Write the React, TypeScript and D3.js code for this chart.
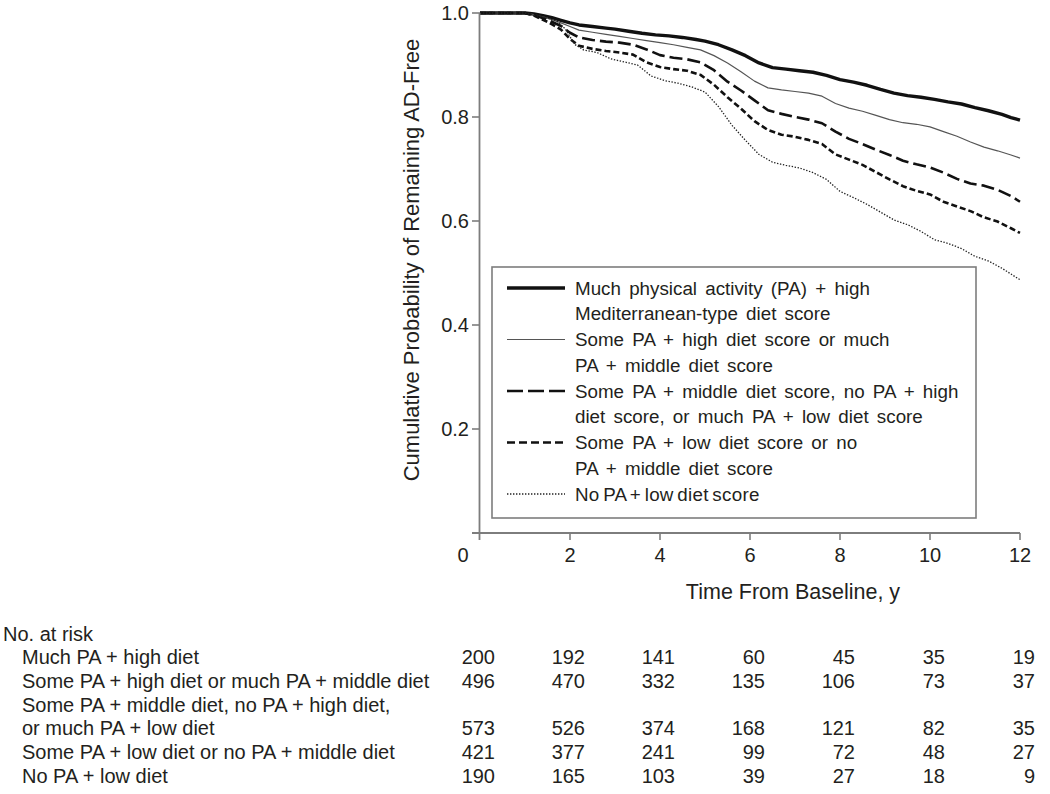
import React from "react";
import * as d3 from "d3";

type Pt = [number, number];

const xTicks = [0, 2, 4, 6, 8, 10, 12];
const yTicks = [0.2, 0.4, 0.6, 0.8, 1.0];

const muchPAHighDiet: Pt[] = [
  [0, 1], [1.0, 1], [1.2, 0.998], [1.4, 0.995], [1.6, 0.991], [1.8, 0.986], [2.0, 0.981], [2.2, 0.977],
  [2.5, 0.974], [2.8, 0.971], [3.0, 0.969], [3.3, 0.965], [3.6, 0.961], [3.9, 0.958], [4.2, 0.956],
  [4.5, 0.953], [4.8, 0.949], [5.0, 0.946], [5.3, 0.939], [5.6, 0.929], [5.9, 0.918], [6.2, 0.904],
  [6.5, 0.895], [6.8, 0.892], [7.1, 0.889], [7.4, 0.886], [7.7, 0.88], [8.0, 0.872], [8.3, 0.867],
  [8.6, 0.861], [8.9, 0.853], [9.2, 0.846], [9.5, 0.841], [9.8, 0.838], [10.1, 0.834], [10.4, 0.829],
  [10.7, 0.825], [11.0, 0.818], [11.3, 0.812], [11.6, 0.805], [11.8, 0.799], [12.0, 0.794],
];

const somePAHighDiet: Pt[] = [
  [0, 1], [1.0, 1], [1.2, 0.997], [1.5, 0.99], [1.8, 0.981], [2.0, 0.974], [2.2, 0.967], [2.5, 0.963],
  [2.8, 0.959], [3.1, 0.955], [3.4, 0.951], [3.7, 0.947], [4.0, 0.943], [4.3, 0.939], [4.6, 0.934],
  [4.9, 0.929], [5.2, 0.918], [5.5, 0.904], [5.8, 0.887], [6.1, 0.869], [6.4, 0.856], [6.7, 0.852],
  [7.0, 0.849], [7.3, 0.846], [7.6, 0.84], [7.9, 0.826], [8.2, 0.817], [8.5, 0.811], [8.8, 0.803],
  [9.1, 0.795], [9.4, 0.789], [9.7, 0.786], [10.0, 0.781], [10.3, 0.772], [10.6, 0.763], [10.9, 0.752],
  [11.2, 0.742], [11.5, 0.735], [11.8, 0.727], [12.0, 0.721],
];

const somePAMiddleDiet: Pt[] = [
  [0, 1], [1.0, 1], [1.2, 0.996], [1.5, 0.987], [1.8, 0.975], [2.0, 0.962], [2.2, 0.953], [2.5, 0.948],
  [2.8, 0.945], [3.1, 0.943], [3.4, 0.939], [3.7, 0.93], [4.0, 0.919], [4.3, 0.914], [4.6, 0.911],
  [4.9, 0.905], [5.2, 0.89], [5.5, 0.868], [5.8, 0.851], [6.1, 0.832], [6.4, 0.813], [6.7, 0.806],
  [7.0, 0.8], [7.3, 0.795], [7.6, 0.788], [7.9, 0.772], [8.2, 0.758], [8.5, 0.748], [8.8, 0.737],
  [9.1, 0.727], [9.4, 0.716], [9.7, 0.709], [10.0, 0.703], [10.3, 0.693], [10.6, 0.681], [10.9, 0.672],
  [11.2, 0.668], [11.5, 0.66], [11.8, 0.648], [12.0, 0.637],
];

const somePALowDiet: Pt[] = [
  [0, 1], [1.0, 1], [1.2, 0.995], [1.5, 0.983], [1.8, 0.968], [2.0, 0.95], [2.2, 0.937], [2.5, 0.931],
  [2.8, 0.927], [3.1, 0.924], [3.4, 0.92], [3.7, 0.905], [4.0, 0.896], [4.3, 0.892], [4.6, 0.889],
  [4.9, 0.881], [5.2, 0.862], [5.5, 0.838], [5.8, 0.816], [6.1, 0.792], [6.4, 0.775], [6.7, 0.766],
  [7.0, 0.762], [7.3, 0.756], [7.6, 0.748], [7.9, 0.728], [8.2, 0.718], [8.5, 0.708], [8.8, 0.694],
  [9.1, 0.68], [9.4, 0.667], [9.7, 0.658], [10.0, 0.651], [10.3, 0.637], [10.6, 0.628], [10.9, 0.619],
  [11.2, 0.607], [11.5, 0.599], [11.8, 0.586], [12.0, 0.577],
];

const noPALowDiet: Pt[] = [
  [0, 1], [1.0, 1], [1.2, 0.996], [1.5, 0.99], [1.7, 0.985], [1.9, 0.969], [2.1, 0.94], [2.3, 0.929],
  [2.6, 0.924], [2.9, 0.912], [3.2, 0.906], [3.5, 0.9], [3.8, 0.879], [4.1, 0.87], [4.4, 0.865],
  [4.7, 0.858], [5.0, 0.848], [5.3, 0.82], [5.6, 0.784], [5.9, 0.755], [6.2, 0.728], [6.5, 0.713],
  [6.8, 0.707], [7.1, 0.702], [7.4, 0.693], [7.7, 0.68], [8.0, 0.657], [8.3, 0.645], [8.6, 0.632],
  [8.9, 0.617], [9.2, 0.602], [9.5, 0.593], [9.8, 0.58], [10.1, 0.564], [10.4, 0.557], [10.7, 0.547],
  [11.0, 0.532], [11.3, 0.523], [11.6, 0.509], [11.8, 0.498], [12.0, 0.487],
];

const legendLabels: string[][] = [
  ["Much physical activity (PA) + high", "Mediterranean-type diet score"],
  ["Some PA + high diet score or much", "PA + middle diet score"],
  ["Some PA + middle diet score, no PA + high", "diet score, or much PA + low diet score"],
  ["Some PA + low diet score or no", "PA + middle diet score"],
  ["No PA + low diet score"],
];

const riskLabels: string[][] = [
  ["Much PA + high diet"],
  ["Some PA + high diet or much PA + middle diet"],
  ["Some PA + middle diet, no PA + high diet,", "or much PA + low diet"],
  ["Some PA + low diet or no PA + middle diet"],
  ["No PA + low diet"],
];

const riskMuchHigh = [200, 192, 141, 60, 45, 35, 19];
const riskSomeHigh = [496, 470, 332, 135, 106, 73, 37];
const riskSomeMiddle = [573, 526, 374, 168, 121, 82, 35];
const riskSomeLow = [421, 377, 241, 99, 72, 48, 27];
const riskNoLow = [190, 165, 103, 39, 27, 18, 9];
const riskTimes = [0, 2, 4, 6, 8, 10, 12];

const series = [muchPAHighDiet, somePAHighDiet, somePAMiddleDiet, somePALowDiet, noPALowDiet];
const riskRows = [riskMuchHigh, riskSomeHigh, riskSomeMiddle, riskSomeLow, riskNoLow];

const styles = [
  { stroke: "#111", width: 3.4, dash: "none" },
  { stroke: "#555", width: 1.2, dash: "none" },
  { stroke: "#111", width: 2.6, dash: "13,5" },
  { stroke: "#111", width: 2.6, dash: "6,3" },
  { stroke: "#222", width: 1.3, dash: "1.4,1.6" },
];

const FONT = "'Liberation Sans', Arial, Helvetica, sans-serif";
const TXT = "#231f20";
const AX = "#7d7d7d";

export default function App() {
  const x = d3.scaleLinear().domain([0, 12]).range([480, 1020]);
  const y = d3.scaleLinear().domain([0, 1]).range([533, 13]);
  const line = d3
    .line<Pt>()
    .x((d) => x(d[0]))
    .y((d) => y(d[1]))
    .curve(d3.curveLinear);

  const legX = 492, legY = 267, legW = 484, legH = 251;
  const legRow = 25.75;
  const legTop = 288;
  let legIdx = 0;
  const legendItems = legendLabels.map((lines, i) => {
    const start = legIdx;
    legIdx += lines.length;
    return { lines, start, i };
  });

  const tableTop = 657;
  const tableStep = 23.8;
  let r = 0;
  const tableItems = riskLabels.map((lines, i) => {
    const start = r;
    r += lines.length;
    return { lines, start, i };
  });

  return (
    <svg
      width={1050}
      height={794}
      style={{ position: "absolute", left: 0, top: 0, background: "#fff" }}
      fontFamily={FONT}
    >
      <rect x={0} y={0} width={1050} height={794} fill="#fff" />
      {series.map((s, i) => (
        <path
          key={i}
          d={line(s) || ""}
          fill="none"
          stroke={styles[i].stroke}
          strokeWidth={styles[i].width}
          strokeDasharray={styles[i].dash}
          strokeLinejoin="round"
        />
      ))}
      <line x1={x(0) - 0.5} x2={x(0) - 0.5} y1={y(1)} y2={y(0) + 7} stroke={AX} strokeWidth={1.8} />
      <line x1={x(0) - 8} x2={x(12)} y1={y(0)} y2={y(0)} stroke={AX} strokeWidth={1.8} />
      {yTicks.map((t) => (
        <g key={t}>
          <line x1={x(0) - 8} x2={x(0)} y1={y(t)} y2={y(t)} stroke={AX} strokeWidth={1.6} />
          <text x={x(0) - 11} y={y(t)} dy="0.35em" textAnchor="end" fontSize={20} fill={TXT}>
            {t.toFixed(1)}
          </text>
        </g>
      ))}
      {xTicks.map((t) => (
        <g key={t}>
          {t > 0 && (
            <line x1={x(t)} x2={x(t)} y1={y(0)} y2={y(0) + 7} stroke={AX} strokeWidth={1.6} />
          )}
          <text
            x={t === 0 ? x(t) - 17 : x(t)}
            y={y(0) + 22}
            dy="0.35em"
            textAnchor="middle"
            fontSize={20}
            fill={TXT}
          >
            {t}
          </text>
        </g>
      ))}
      <text x={793} y={591} dy="0.35em" textAnchor="middle" fontSize={21.5} fill={TXT}>
        Time From Baseline, y
      </text>
      <text
        transform={`translate(411,260) rotate(-90)`}
        dy="0.35em"
        textAnchor="middle"
        fontSize={22}
        fill={TXT}
      >
        Cumulative Probability of Remaining AD-Free
      </text>
      <rect x={legX} y={legY} width={legW} height={legH} fill="#fff" stroke={AX} strokeWidth={1.6} />
      {legendItems.map(({ lines, start, i }) => (
        <g key={i}>
          <line
            x1={507}
            x2={565}
            y1={legTop + start * legRow}
            y2={legTop + start * legRow}
            stroke={styles[i].stroke}
            strokeWidth={styles[i].width}
            strokeDasharray={i === 2 ? "16,5" : i === 3 ? "8,4" : styles[i].dash}
          />
          {lines.map((l, j) => (
            <text
              key={j}
              x={575}
              y={legTop + (start + j) * legRow}
              dy="0.35em"
              fontSize={18.8}
              fill={TXT}
              wordSpacing={i === 4 ? -2 : 3}
              letterSpacing={i === 4 ? 0.3 : 0}
            >
              {l}
            </text>
          ))}
        </g>
      ))}
      <text x={3} y={634} dy="0.35em" fontSize={20} fill={TXT}>
        No. at risk
      </text>
      {tableItems.map(({ lines, start, i }) => (
        <g key={i}>
          {lines.map((l, j) => (
            <text key={j} x={22} y={tableTop + (start + j) * tableStep} dy="0.35em" fontSize={20} fill={TXT}>
              {l}
            </text>
          ))}
          {riskRows[i].map((v, k) => (
            <text
              key={k}
              x={x(riskTimes[k]) + 15}
              y={tableTop + (start + lines.length - 1) * tableStep}
              dy="0.35em"
              textAnchor="end"
              fontSize={20}
              fill={TXT}
            >
              {v}
            </text>
          ))}
        </g>
      ))}
    </svg>
  );
}
